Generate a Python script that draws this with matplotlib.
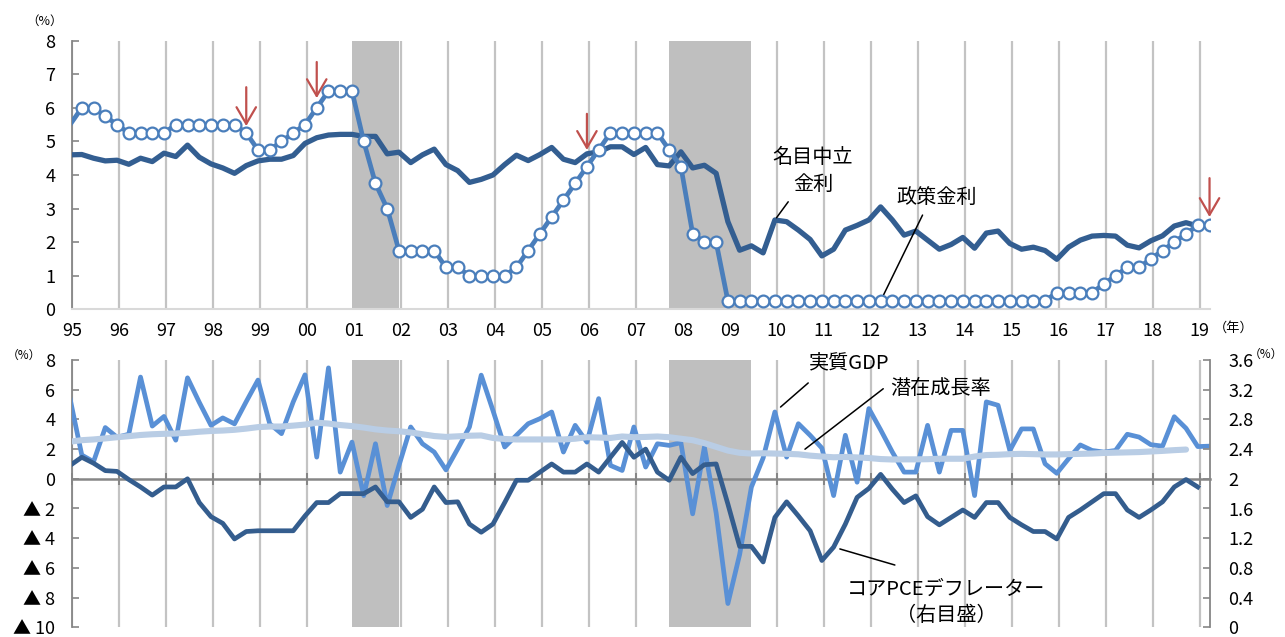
import numpy as np
import pandas as pd
import matplotlib.pyplot as plt

plt.rcParams['font.family'] = ['Noto Sans CJK JP', 'DejaVu Sans']

# quarterly observations, 1994Q4 .. 2019Q1
quarters = pd.period_range('1994Q4', '2019Q1', freq='Q')

# FF rate target (%)
policy_rate = [
    5.5,
    6.0, 6.0, 5.75, 5.5,
    5.25, 5.25, 5.25, 5.25,
    5.5, 5.5, 5.5, 5.5,
    5.5, 5.5, 5.25, 4.75,
    4.75, 5.0, 5.25, 5.5,
    6.0, 6.5, 6.5, 6.5,
    5.0, 3.75, 3.0, 1.75,
    1.75, 1.75, 1.75, 1.25,
    1.25, 1.0, 1.0, 1.0,
    1.0, 1.25, 1.75, 2.25,
    2.75, 3.25, 3.75, 4.25,
    4.75, 5.25, 5.25, 5.25,
    5.25, 5.25, 4.75, 4.25,
    2.25, 2.0, 2.0, 0.25,
    0.25, 0.25, 0.25, 0.25,
    0.25, 0.25, 0.25, 0.25,
    0.25, 0.25, 0.25, 0.25,
    0.25, 0.25, 0.25, 0.25,
    0.25, 0.25, 0.25, 0.25,
    0.25, 0.25, 0.25, 0.25,
    0.25, 0.25, 0.25, 0.5,
    0.5, 0.5, 0.5, 0.75,
    1.0, 1.25, 1.25, 1.5,
    1.75, 2.0, 2.25, 2.5,
    2.5,
]

# nominal neutral rate (%)
neutral_rate = [
    4.6,
    4.61, 4.5, 4.42, 4.44,
    4.32, 4.5, 4.4, 4.65,
    4.55, 4.89, 4.53, 4.33,
    4.21, 4.05, 4.28, 4.42,
    4.47, 4.47, 4.58, 4.94,
    5.11, 5.19, 5.21, 5.21,
    5.15, 5.15, 4.63, 4.68,
    4.37, 4.6, 4.77, 4.31,
    4.13, 3.78, 3.87, 4.0,
    4.31, 4.59, 4.43, 4.61,
    4.82, 4.47, 4.37, 4.63,
    4.69, 4.84, 4.84, 4.61,
    4.82, 4.31, 4.27, 4.69,
    4.21, 4.29, 4.05, 2.61,
    1.76, 1.89, 1.68, 2.66,
    2.61, 2.36, 2.08, 1.59,
    1.79, 2.36, 2.5, 2.66,
    3.05, 2.66, 2.21, 2.33,
    2.06, 1.79, 1.93, 2.14,
    1.82, 2.27, 2.33, 1.96,
    1.79, 1.85, 1.75, 1.49,
    1.85, 2.06, 2.18, 2.2,
    2.18, 1.91, 1.83, 2.04,
    2.19, 2.48, 2.58, 2.48,
]

# real GDP, q/q annualised (%)
real_gdp = [
    5.4,
    1.6, 1.15, 3.45, 2.8,
    3.0, 6.85, 3.55, 4.2,
    2.6, 6.8, 5.15, 3.6,
    4.1, 3.7, 5.2, 6.65,
    3.7, 3.04, 5.18, 7.0,
    1.46, 7.47, 0.45, 2.47,
    -1.13, 2.36, -1.8, 0.9,
    3.49, 2.36, 1.8, 0.6,
    2.02, 3.49, 6.98, 4.6,
    2.14, 2.93, 3.71, 4.05,
    4.5, 1.8, 3.6, 2.47,
    5.4, 0.9, 0.56, 3.49,
    0.79, 2.36, 2.25, 2.43,
    -2.36, 2.14, -2.3, -8.4,
    -5.1, -0.56, 1.4, 4.5,
    1.46, 3.71, 2.93, 2.07,
    -1.13, 2.93, -0.23, 4.73,
    3.3, 1.8, 0.45, 0.45,
    3.6, 0.45, 3.26, 3.26,
    -1.13, 5.18, 4.95, 1.91,
    3.36, 3.36, 1.01, 0.37,
    1.35, 2.28, 1.91, 1.8,
    1.91, 3.0, 2.81, 2.3,
    2.2, 4.18, 3.4, 2.17,
    2.2,
]

# potential growth rate (%)
potential_growth = [
    2.5,
    2.6, 2.65, 2.72, 2.8,
    2.87, 2.95, 3.0, 3.03,
    3.05, 3.1, 3.17, 3.22,
    3.25, 3.3, 3.38, 3.48,
    3.52, 3.52, 3.58, 3.65,
    3.78, 3.72, 3.62, 3.55,
    3.45, 3.33, 3.25, 3.2,
    3.12, 3.0, 2.88, 2.82,
    2.86, 2.9, 2.92, 2.75,
    2.68, 2.65, 2.65, 2.65,
    2.65, 2.65, 2.7, 2.8,
    2.78, 2.75, 2.85, 2.8,
    2.82, 2.85, 2.8, 2.7,
    2.6, 2.4, 2.15, 1.9,
    1.75, 1.7, 1.72, 1.7,
    1.68, 1.65, 1.56, 1.5,
    1.45, 1.47, 1.44, 1.4,
    1.33, 1.3, 1.31, 1.31,
    1.32, 1.35, 1.35, 1.35,
    1.5, 1.6, 1.62, 1.66,
    1.68, 1.66, 1.64, 1.64,
    1.66, 1.68, 1.7, 1.74,
    1.76, 1.78, 1.8, 1.84,
    1.88, 1.93, 1.97,
]

# core PCE deflator, y/y (%), right scale
core_pce = [
    2.18,
    2.29, 2.21, 2.11, 2.1,
    1.99, 1.89, 1.78, 1.89,
    1.89, 2.0, 1.68, 1.49,
    1.4, 1.19, 1.29, 1.3,
    1.3, 1.3, 1.3, 1.5,
    1.68, 1.68, 1.8, 1.8,
    1.8, 1.89, 1.69, 1.69,
    1.48, 1.59, 1.89, 1.68,
    1.69, 1.39, 1.28, 1.39,
    1.68, 1.98, 1.98, 2.09,
    2.2, 2.09, 2.09, 2.2,
    2.09, 2.29, 2.49, 2.29,
    2.4, 2.09, 1.98, 2.29,
    2.07, 2.19, 2.2, 1.66,
    1.09, 1.09, 0.88, 1.48,
    1.69, 1.5, 1.3, 0.9,
    1.08, 1.39, 1.75, 1.87,
    2.06, 1.86, 1.68, 1.77,
    1.49, 1.38, 1.48, 1.58,
    1.48, 1.68, 1.68, 1.48,
    1.38, 1.29, 1.29, 1.19,
    1.48, 1.58, 1.69, 1.8,
    1.8, 1.58, 1.48, 1.58,
    1.69, 1.89, 1.99, 1.89,
]

recessions = [('2000Q4', '2001Q4'), ('2007Q3', '2009Q2')]
rate_turns = ['1998Q3', '2000Q1', '2005Q4', '2019Q1']
turn_rise = [33, 33, 38, 34]     # arrow tail height above the point, pt
turn_gap = [5, 7, 12, 6]         # gap between arrow tip and the point, pt

years = list(range(1995, 2020))
year_labels = [f'{y % 100:02d}' for y in years]
left_ticks = [-10, -8, -6, -4, -2, 0, 2, 4, 6, 8]
left_labels = [f'▲ {-v}' if v < 0 else str(v) for v in left_ticks]
right_ticks = [0, 0.4, 0.8, 1.2, 1.6, 2, 2.4, 2.8, 3.2, 3.6]
right_labels = [f'{v:g}' for v in right_ticks]

C_POLICY = '#4A7EBB'
C_NEUTRAL = '#335E91'
C_GDP = '#5990D6'
C_POT = '#B9CDE5'
C_PCE = '#345D8E'
C_GRID = '#C3C3C3'
C_SHADE = '#BFBFBF'
C_AXIS = '#868686'
C_ARROW = '#C0504D'


def qx(q):
    # position a quarter at the middle of its last month
    p = pd.Period(q, freq='Q')
    return p.year + (3 * p.quarter - 0.5) / 12


def qi(q):
    return quarters.get_loc(pd.Period(q, freq='Q'))


x = np.array([qx(q) for q in quarters])
xmin, xmax = 1995.0, qx('2019Q1') + 0.01

fig = plt.figure(figsize=(12.85, 6.37), dpi=100)
W, H = 1285, 637
ax1 = fig.add_axes([72 / W, 1 - 309.3 / H, 1138 / W, 268.6 / H])
ax2 = fig.add_axes([72 / W, 1 - 627.3 / H, 1138 / W, 267.3 / H])
ax2r = ax2.twinx()

# ---- top: policy rate vs neutral rate
for a, b in recessions:
    ax1.axvspan(qx(a), qx(b), color=C_SHADE, lw=0, zorder=1)
ax1.plot(x[:len(neutral_rate)], neutral_rate, color=C_NEUTRAL, lw=3.8,
         solid_joinstyle='round', zorder=3)
ax1.plot(x[:len(policy_rate)], policy_rate, color=C_POLICY, lw=3.4,
         solid_joinstyle='round', marker='o', ms=8.5, mfc='white',
         mec=C_POLICY, mew=1.6, markevery=range(1, len(policy_rate)), zorder=4)

for q, rise, gap in zip(rate_turns, turn_rise, turn_gap):
    i = qi(q)
    ax1.annotate('', xy=(x[i], policy_rate[i]), xytext=(0, rise),
                 textcoords='offset points',
                 arrowprops=dict(arrowstyle='->,head_length=0.6,head_width=0.35',
                                 color=C_ARROW, lw=1.6, shrinkA=0, shrinkB=gap,
                                 mutation_scale=20), zorder=6)

ax1.set_xlim(xmin, xmax)
ax1.set_ylim(0, 8)
ax1.set_xticks(years)
ax1.set_xticklabels(year_labels)
ax1.set_yticks(range(0, 9))
ax1.grid(axis='x', color=C_GRID, lw=1.6, zorder=0)
ax1.set_axisbelow(True)
for s in ('top', 'right'):
    ax1.spines[s].set_visible(False)
ax1.spines['left'].set_color(C_AXIS)
ax1.spines['left'].set_linewidth(1.3)
ax1.spines['bottom'].set_color('#D9D9D9')
ax1.spines['bottom'].set_linewidth(1.5)
ax1.tick_params(axis='y', direction='in', length=5, width=1.2, color=C_AXIS,
                labelsize=13, pad=12)
ax1.tick_params(axis='x', length=0, labelsize=13, pad=9)

ax1.text(2010.77, 4.12, '名目中立\n金利', ha='center', va='center',
         fontsize=14.5, linespacing=1.35, zorder=7)
i = qi('2009Q4')
ax1.annotate('', xy=(x[i], neutral_rate[i]), xytext=(9.6, 13.1),
             textcoords='offset points',
             arrowprops=dict(arrowstyle='-', color='black', lw=1.1,
                             shrinkA=0, shrinkB=2))
ax1.text(2013.40, 3.34, '政策金利', ha='center', va='center', fontsize=14.5,
         zorder=7)
i = qi('2012Q1')
ax1.annotate('', xy=(x[i], policy_rate[i]), xytext=(30.2, 61.8),
             textcoords='offset points',
             arrowprops=dict(arrowstyle='-', color='black', lw=1.1,
                             shrinkA=0, shrinkB=5))

fig.text(45 / W, 1 - 21 / H, '（%）', ha='center', va='center', fontsize=9)
fig.text(1234 / W, 1 - 328 / H, '（年）', ha='center', va='center', fontsize=9.5)

# ---- bottom: growth and inflation
for a, b in recessions:
    ax2.axvspan(qx(a), qx(b), color=C_SHADE, lw=0, zorder=1)
ax2.plot(x[:len(real_gdp)], real_gdp, color=C_GDP, lw=3.4,
         solid_joinstyle='round', zorder=3)
ax2.plot(x[:len(potential_growth)], potential_growth, color=C_POT, lw=4.4,
         solid_capstyle='round', solid_joinstyle='round', zorder=4)
ax2r.plot(x[:len(core_pce)], core_pce, color=C_PCE, lw=3.4,
          solid_joinstyle='round', zorder=3)

ax2.set_xlim(xmin, xmax)
ax2.set_ylim(-10, 8)
ax2.set_yticks(left_ticks)
ax2.set_yticklabels(left_labels)
ax2.set_xticks(years)
ax2.grid(axis='x', color=C_GRID, lw=1.6, zorder=0)
ax2.set_axisbelow(True)
ax2r.set_ylim(0, 3.6)
ax2r.set_yticks(right_ticks)
ax2r.set_yticklabels(right_labels)

for s in ('top', 'right'):
    ax2.spines[s].set_visible(False)
for s in ('top', 'left', 'bottom'):
    ax2r.spines[s].set_visible(False)
ax2.spines['left'].set_color(C_AXIS)
ax2.spines['left'].set_linewidth(1.3)
ax2.spines['bottom'].set_position(('data', 0))
ax2.spines['bottom'].set_color(C_AXIS)
ax2.spines['bottom'].set_linewidth(1.8)
ax2.spines['bottom'].set_zorder(2)
ax2r.spines['right'].set_color(C_AXIS)
ax2r.spines['right'].set_linewidth(1.3)
ax2.tick_params(axis='y', direction='in', length=5, width=1.2, color=C_AXIS,
                labelsize=13, pad=12)
ax2.tick_params(axis='x', direction='inout', length=8, width=1.4, color=C_AXIS,
                labelbottom=False)
ax2r.tick_params(axis='y', direction='in', length=5, width=1.2, color=C_AXIS,
                 labelsize=13, pad=13)

ax2.text(2011.55, 7.79, '実質GDP', ha='center', va='center', fontsize=14.5)
i = qi('2009Q4')
ax2.annotate('', xy=(x[i], real_gdp[i]), xytext=(24, 20.9),
             textcoords='offset points',
             arrowprops=dict(arrowstyle='-', color='black', lw=1.1,
                             shrinkA=0, shrinkB=5.4))
ax2.text(2013.49, 6.1, '潜在成長率', ha='center', va='center', fontsize=14.5)
i = qi('2010Q2')
ax2.annotate('', xy=(x[i], potential_growth[i]), xytext=(61.1, 47.2),
             textcoords='offset points',
             arrowprops=dict(arrowstyle='-', color='black', lw=1.1,
                             shrinkA=0, shrinkB=6))
ax2.text(2013.6, -8.32, 'コアPCEデフレーター\n（右目盛）', ha='center',
         va='center', fontsize=14.5, linespacing=1.3)
i = qi('2011Q1')
ax2r.annotate('', xy=(x[i], core_pce[i]), xytext=(44.1, -12.9),
              textcoords='offset points',
              arrowprops=dict(arrowstyle='-', color='black', lw=1.1,
                              shrinkA=0, shrinkB=4.7))

fig.text(24 / W, 1 - 355 / H, '（%）', ha='center', va='center', fontsize=8.5)
fig.text(1283 / W, 1 - 354 / H, '（%）', ha='right', va='center', fontsize=8.5)

fig.savefig('out.png', dpi=100)
